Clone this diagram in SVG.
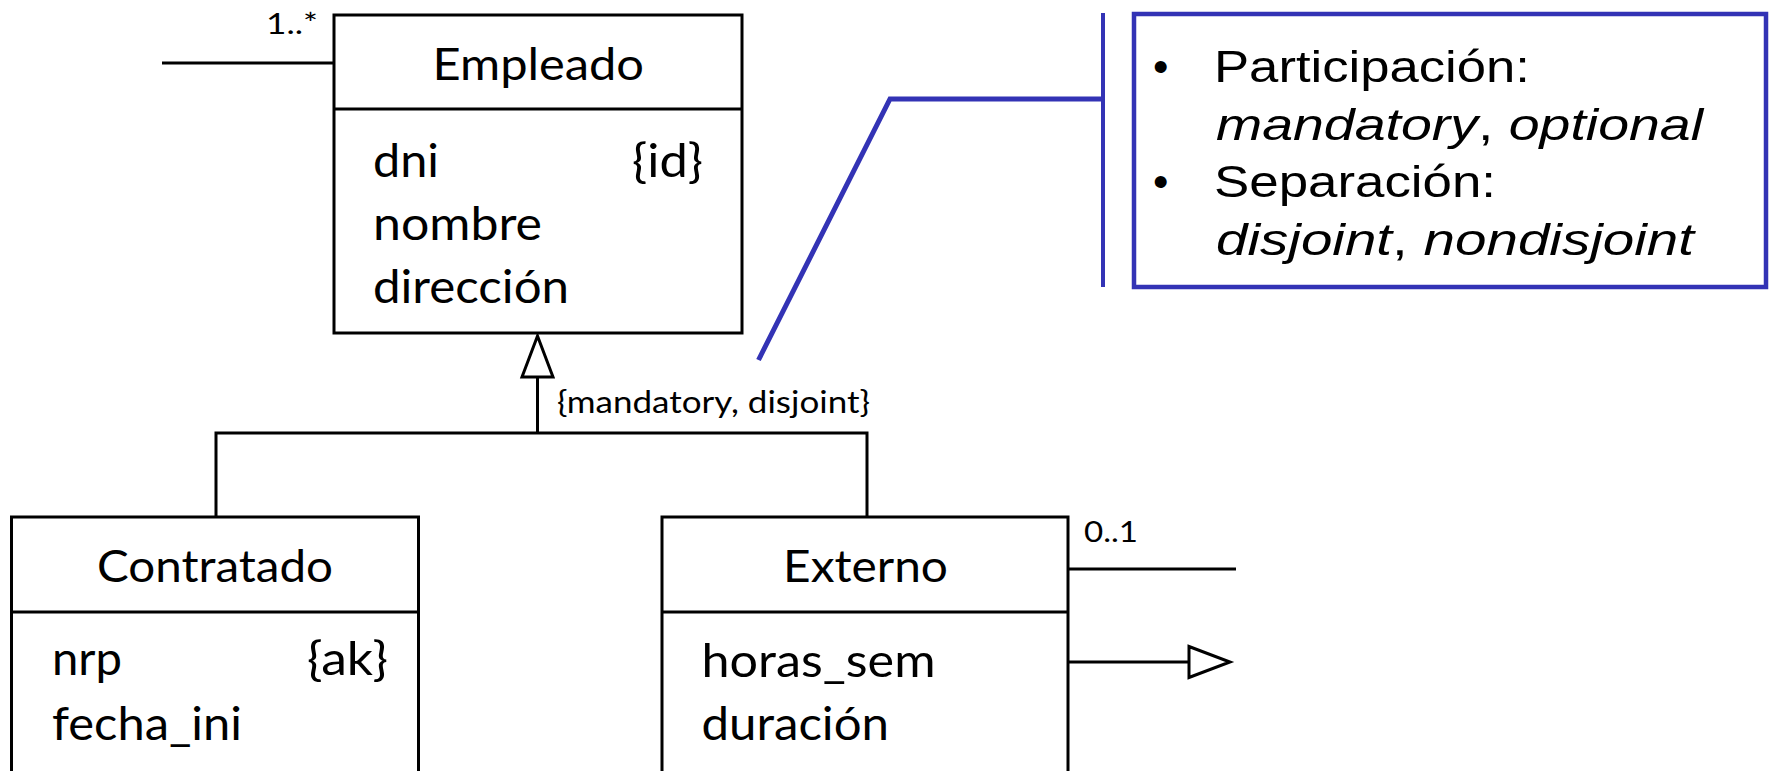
<svg xmlns="http://www.w3.org/2000/svg" width="1774" height="771" viewBox="0 0 1774 771">
<style>
.box{fill:#fff;stroke:#000;stroke-width:3}
.ln{fill:none;stroke:#000;stroke-width:3}
.t{font-family:Lato,"Open Sans",sans-serif;fill:#000}
.title{font-size:44px}
.attr{font-size:46px}
.mult{font-size:28px}
.blue{fill:none;stroke:#3333B5}
.bt{font-family:"Liberation Sans",Arial,sans-serif;font-size:44px;fill:#000}
.it{font-style:italic}
.up{font-style:normal}
</style>
<rect width="1774" height="771" fill="#fff"/>
<g id="connectors">
  <line class="ln" x1="162" y1="63" x2="334" y2="63"/>
  <text class="t mult" x="266" y="34" textLength="52" lengthAdjust="spacingAndGlyphs">1..*</text>
  <polygon class="ln" points="537.5,336 522,377 553,377" style="fill:#fff"/>
  <polyline class="ln" points="537.5,377 537.5,433"/>
  <polyline class="ln" points="216,517 216,433 867,433 867,517"/>
  <text class="t" x="557" y="413" font-size="31" textLength="313" lengthAdjust="spacingAndGlyphs">{mandatory, disjoint}</text>
  <line class="ln" x1="1068" y1="569" x2="1236" y2="569"/>
  <text class="t mult" x="1084" y="542" textLength="54" lengthAdjust="spacingAndGlyphs">0..1</text>
  <line class="ln" x1="1068" y1="662" x2="1189" y2="662"/>
  <polygon class="ln" points="1189,646.5 1230,662 1189,677.5" style="fill:#fff"/>
</g>
<g id="Empleado">
  <rect class="box" x="334" y="15" width="408" height="318"/>
  <line class="ln" x1="334" y1="109" x2="742" y2="109"/>
  <text class="t title" x="432.5" y="80" textLength="211.5" lengthAdjust="spacingAndGlyphs">Empleado</text>
  <text class="t attr" x="373" y="177" textLength="66" lengthAdjust="spacingAndGlyphs">dni</text>
  <text class="t attr" x="632" y="177" textLength="71" lengthAdjust="spacingAndGlyphs">{id}</text>
  <text class="t attr" x="373" y="240" textLength="169" lengthAdjust="spacingAndGlyphs">nombre</text>
  <text class="t attr" x="373" y="303" textLength="196" lengthAdjust="spacingAndGlyphs">dirección</text>
</g>
<g id="Contratado">
  <rect class="box" x="11.5" y="517" width="407" height="300"/>
  <line class="ln" x1="11.5" y1="612" x2="418.5" y2="612"/>
  <text class="t title" x="97" y="582" textLength="236" lengthAdjust="spacingAndGlyphs">Contratado</text>
  <text class="t attr" x="52" y="675" textLength="70" lengthAdjust="spacingAndGlyphs">nrp</text>
  <text class="t attr" x="307" y="675" textLength="81" lengthAdjust="spacingAndGlyphs">{ak}</text>
  <text class="t attr" x="52" y="740" textLength="190" lengthAdjust="spacingAndGlyphs">fecha_ini</text>
</g>
<g id="Externo">
  <rect class="box" x="662" y="517" width="406" height="300"/>
  <line class="ln" x1="662" y1="612" x2="1068" y2="612"/>
  <text class="t title" x="783" y="582" textLength="165" lengthAdjust="spacingAndGlyphs">Externo</text>
  <text class="t attr" x="701.5" y="677" textLength="234" lengthAdjust="spacingAndGlyphs">horas_sem</text>
  <text class="t attr" x="701.5" y="740" textLength="187.5" lengthAdjust="spacingAndGlyphs">duración</text>
</g>
<g id="note">
  <polyline class="blue" stroke-width="5" points="758.5,360 890,99 1103,99"/>
  <line class="blue" stroke-width="4" x1="1103" y1="13" x2="1103" y2="287"/>
  <rect class="blue" stroke-width="4.5" x="1134" y="14" width="632" height="273"/>
  <text class="bt" x="1153" y="82">•</text>
  <text class="bt" x="1214" y="82" textLength="316" lengthAdjust="spacingAndGlyphs">Participación:</text>
  <text class="bt it" x="1216" y="140" textLength="487" lengthAdjust="spacingAndGlyphs">mandatory<tspan class="up">,</tspan> optional</text>
  <text class="bt" x="1153" y="197">•</text>
  <text class="bt" x="1214" y="197" textLength="282" lengthAdjust="spacingAndGlyphs">Separación:</text>
  <text class="bt it" x="1216" y="255" textLength="478" lengthAdjust="spacingAndGlyphs">disjoint<tspan class="up">,</tspan> nondisjoint</text>
</g>
</svg>
